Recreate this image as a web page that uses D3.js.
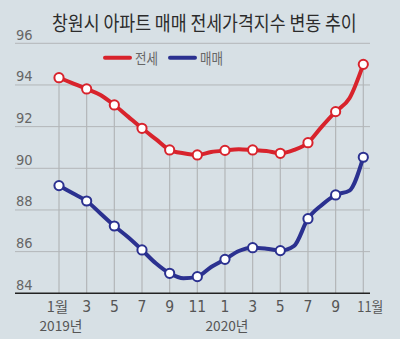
<!DOCTYPE html>
<html>
<head>
<meta charset="utf-8">
<script src="https://cdn.jsdelivr.net/npm/d3@7"></script>
<style>
  html, body { margin: 0; padding: 0; background: #d7e0e5; }
  svg { display: block; }
  .num { font-family: "Liberation Sans Narrow", "DejaVu Sans Condensed", "Liberation Sans", sans-serif; }
  .kr { font-family: "Noto Sans CJK KR", "Noto Sans", sans-serif; }
</style>
</head>
<body>
<script>
// Monthly price indices for Changwon apartments, Jan 2019 – Nov 2020
const months = ["2019-01","2019-02","2019-03","2019-04","2019-05","2019-06","2019-07","2019-08","2019-09","2019-10","2019-11","2019-12",
                "2020-01","2020-02","2020-03","2020-04","2020-05","2020-06","2020-07","2020-08","2020-09","2020-10","2020-11"];
const jeonse = [94.35, 94.08, 93.81, 93.52, 93.04, 92.48, 91.92, 91.4, 90.88, 90.72, 90.64, 90.78,
                90.86, 90.92, 90.88, 90.83, 90.72, 90.88, 91.23, 92.0, 92.72, 93.36, 94.99];
const maemae = [89.17, 88.8, 88.43, 87.83, 87.23, 86.69, 86.08, 85.44, 84.96, 84.72, 84.8, 85.26,
                85.63, 86.03, 86.19, 86.14, 86.05, 86.28, 87.58, 88.24, 88.72, 88.93, 90.53];
const yTicks = [84, 86, 88, 90, 92, 94, 96];
const xTickLabels = ["1월","3","5","7","9","11","1","3","5","7","9","11월"];
const yearLabels = [{ idx: 0, text: "2019년" }, { idx: 12, text: "2020년" }];
const seriesNames = ["전세", "매매"];
const title = "창원시 아파트 매매 전세가격지수 변동 추이";

const W = 400, H = 339;
const red = "#d8232c", blue = "#2b3190";

const svg = d3.select("body").append("svg").attr("width", W).attr("height", H);
svg.append("rect").attr("width", W).attr("height", H).attr("fill", "#d7e0e5");

const x = d3.scaleLinear().domain([0, months.length - 1]).range([59, 363.3]);
const y = d3.scaleLinear().domain([84, 96]).range([293.3, 43.3]);
const gridX0 = 15, gridX1 = 370;

// Draw a text squeezed horizontally to a given width (condensed look)
function condensed(sel, cls, str, x0, yBase, size, width, fill, anchor) {
  const g = sel.append("g");
  const t = g.append("text").attr("class", cls)
    .attr("font-size", size).attr("fill", fill).text(str);
  const natural = t.node().getComputedTextLength();
  const sx = width / natural;
  const left = anchor === "middle" ? x0 - width / 2 : x0;
  g.attr("transform", `translate(${left},${yBase}) scale(${sx},1)`);
  return g;
}

// Title
condensed(svg, "kr", title, 52, 30.5, 20, 305, "#2b2b2b");

// Horizontal grid lines and value labels
const gy = svg.append("g");
yTicks.filter(v => v > 84).forEach(v => {
  gy.append("line").attr("x1", gridX0).attr("x2", gridX1)
    .attr("y1", y(v)).attr("y2", y(v))
    .attr("stroke", "#b3b6b8").attr("stroke-width", 1);
});
yTicks.forEach(v => {
  gy.append("text").attr("class", "num")
    .attr("x", 16).attr("y", y(v) - 3.5)
    .attr("font-size", 14.5).attr("fill", "#666")
    .text(v);
});

// Vertical drop lines at odd months
const oddIdx = d3.range(0, months.length, 2);
svg.append("g").selectAll("line").data(oddIdx).join("line")
  .attr("x1", i => x(i)).attr("x2", i => x(i))
  .attr("y1", i => y(jeonse[i])).attr("y2", y(84))
  .attr("stroke", "#b3b6b8").attr("stroke-width", 1.2);

// Baseline axis
svg.append("line").attr("x1", gridX0).attr("x2", gridX1)
  .attr("y1", y(84)).attr("y2", y(84))
  .attr("stroke", "#222").attr("stroke-width", 1.5);

// Month labels
oddIdx.forEach((i, k) => {
  const label = xTickLabels[k];
  const isLast = k === oddIdx.length - 1;
  if (label.includes("월")) {
    if (isLast) condensed(svg, "kr", label, x(i) - 6, 311.5, 14, 26, "#555");
    else condensed(svg, "kr", label, x(i) - 1.5, 311.5, 14, 21.5, "#555", "middle");
  } else {
    svg.append("text").attr("class", "num")
      .attr("x", x(i)).attr("y", 312)
      .attr("text-anchor", "middle")
      .attr("font-size", 15.5).attr("fill", "#555")
      .text(label);
  }
});
yearLabels.forEach(d => {
  condensed(svg, "kr", d.text, x(d.idx) + 2, 331, 13.5, 43, "#555", "middle");
});

// Series lines
const line = d3.line().x((d, i) => x(i)).y(d => y(d)).curve(d3.curveMonotoneX);
[[maemae, blue], [jeonse, red]].forEach(([vals, col]) => {
  svg.append("path").datum(vals)
    .attr("d", line).attr("fill", "none")
    .attr("stroke", col).attr("stroke-width", 4)
    .attr("stroke-linejoin", "round").attr("stroke-linecap", "round");
  svg.append("g").selectAll("circle").data(oddIdx).join("circle")
    .attr("cx", i => x(i)).attr("cy", i => y(vals[i]))
    .attr("r", 4.6).attr("fill", "#fff")
    .attr("stroke", col).attr("stroke-width", 2);
});

// Legend
const legend = [{ name: seriesNames[0], col: red, x0: 105 }, { name: seriesNames[1], col: blue, x0: 170 }];
legend.forEach(d => {
  svg.append("line").attr("x1", d.x0).attr("x2", d.x0 + 25)
    .attr("y1", 57.7).attr("y2", 57.7)
    .attr("stroke", d.col).attr("stroke-width", 4).attr("stroke-linecap", "round");
  condensed(svg, "kr", d.name, d.x0 + 30, 63.5, 15, 23, "#666");
});
</script>
</body>
</html>
